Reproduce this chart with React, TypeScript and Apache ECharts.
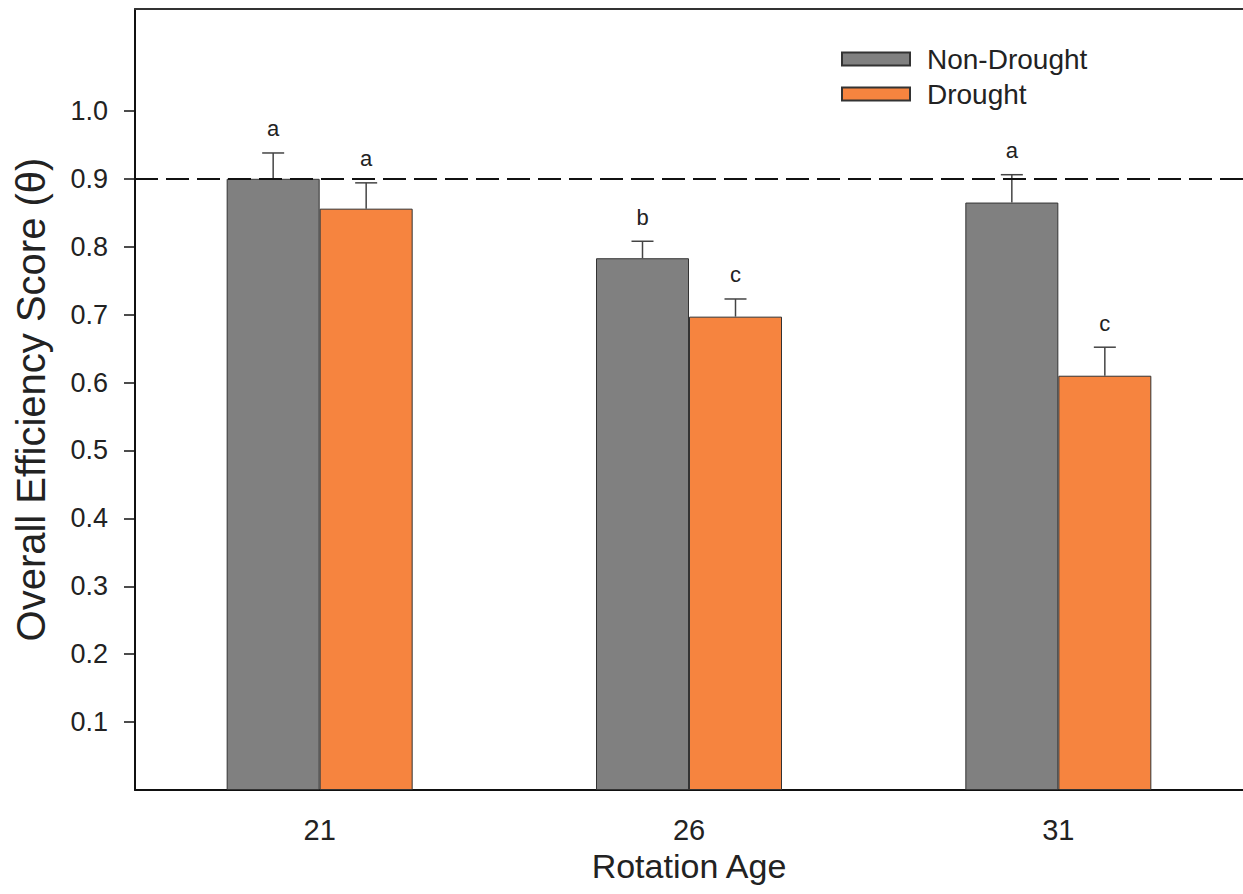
import React, { useEffect, useRef } from "react";
import * as echarts from "echarts";

const categories = ["21", "26", "31"];
const nonDrought = [0.9, 0.783, 0.865];
const drought = [0.856, 0.697, 0.61];
const nonDroughtErr = [0.038, 0.025, 0.041];
const droughtErr = [0.038, 0.026, 0.042];
const nonDroughtLetters = ["a", "b", "a"];
const droughtLetters = ["a", "c", "c"];
const yTickValues = [0.1, 0.2, 0.3, 0.4, 0.5, 0.6, 0.7, 0.8, 0.9, 1.0];
const threshold = 0.9;

const FONT = '"Liberation Sans", Arial, sans-serif';
const BAR_W = 93;
const GRAY = "#808080";
const ORANGE = "#f6843f";

function errorSeries(name: string, values: number[], errs: number[], letters: string[], offset: number) {
  return {
    type: "custom",
    name,
    z: 5,
    silent: true,
    data: values.map((v, i) => [i, v, errs[i]]),
    renderItem: (params: any, api: any) => {
      const idx = api.value(0);
      const v = api.value(1);
      const e = api.value(2);
      const base = api.coord([idx, v]);
      const top = api.coord([idx, v + e]);
      const x = base[0] + offset;
      const stroke = { stroke: "#444", lineWidth: 1.5 };
      return {
        type: "group",
        children: [
          { type: "line", shape: { x1: x, y1: base[1], x2: x, y2: top[1] }, style: stroke },
          { type: "line", shape: { x1: x - 11, y1: top[1], x2: x + 11, y2: top[1] }, style: stroke },
          {
            type: "text",
            x,
            y: top[1] - 24,
            style: {
              text: letters[params.dataIndex],
              fill: "#222",
              font: `22px ${FONT}`,
              align: "center",
              verticalAlign: "middle",
            },
          },
        ],
      };
    },
  };
}

export default function App() {
  const ref = useRef<HTMLDivElement>(null);
  useEffect(() => {
    if (!ref.current) return;
    const chart = echarts.init(ref.current, null, { renderer: "svg" });
    chart.setOption({
      animation: false,
      backgroundColor: "#fff",
      textStyle: { fontFamily: FONT },
      grid: {
        left: 135,
        top: 9,
        right: -9,
        bottom: 104,
      },
      legend: {
        data: ["Non-Drought", "Drought"],
        orient: "vertical",
        left: 841,
        top: 44,
        padding: 0,
        icon: "rect",
        itemWidth: 68,
        itemHeight: 13,
        itemGap: 5,
        textStyle: { fontSize: 28, color: "#222", fontFamily: FONT, lineHeight: 30, padding: [0, 0, 0, 12] },
      },
      xAxis: [
        {
          type: "category",
          data: categories,
          name: "Rotation Age",
          nameLocation: "middle",
          nameGap: 50,
          nameTextStyle: { fontSize: 34, color: "#222", fontFamily: FONT },
          axisLine: { lineStyle: { color: "#111", width: 2 } },
          axisTick: { alignWithLabel: true, length: 12, lineStyle: { color: "#111", width: 1.5 } },
          axisLabel: { fontSize: 29, color: "#222", margin: 25, fontFamily: FONT },
        },
        {
          type: "category",
          data: categories,
          position: "top",
          axisLine: { show: true, lineStyle: { color: "#333", width: 2 } },
          axisTick: { show: false },
          axisLabel: { show: false },
        },
      ],
      yAxis: {
        type: "value",
        min: 0,
        max: 1.15,
        interval: 0.1,
        name: "Overall Efficiency Score (\u03b8)",
        nameLocation: "middle",
        nameGap: 84,
        nameTextStyle: { fontSize: 40, color: "#222", fontFamily: FONT },
        splitLine: { show: false },
        axisLine: { show: true, lineStyle: { color: "#111", width: 2 } },
        axisTick: {
          show: true,
          length: 11,
          customValues: yTickValues,
          lineStyle: { color: "#111", width: 1.5 },
        },
        axisLabel: {
          fontSize: 27,
          color: "#222",
          margin: 27,
          fontFamily: FONT,
          customValues: yTickValues,
          formatter: (v: number) => v.toFixed(1),
        },
      },
      series: [
        {
          name: "Non-Drought",
          type: "bar",
          data: nonDrought,
          barWidth: BAR_W,
          barGap: "0%",
          itemStyle: { color: GRAY, borderColor: "#333", borderWidth: 1 },
          markLine: {
            silent: true,
            symbol: "none",
            label: { show: false },
            lineStyle: { color: "#111", width: 2, type: [23, 8] },
            data: [{ yAxis: threshold }],
            z: 6,
          },
        },
        {
          name: "Drought",
          type: "bar",
          data: drought,
          barWidth: BAR_W,
          barGap: "0%",
          itemStyle: { color: ORANGE, borderColor: "#333", borderWidth: 1 },
        },
        errorSeries("errND", nonDrought, nonDroughtErr, nonDroughtLetters, -BAR_W / 2),
        errorSeries("errD", drought, droughtErr, droughtLetters, BAR_W / 2),
      ],
    });
    return () => chart.dispose();
  }, []);
  return (
    <div
      ref={ref}
      style={{ position: "absolute", left: 0, top: 0, width: 1243, height: 894 }}
    />
  );
}
